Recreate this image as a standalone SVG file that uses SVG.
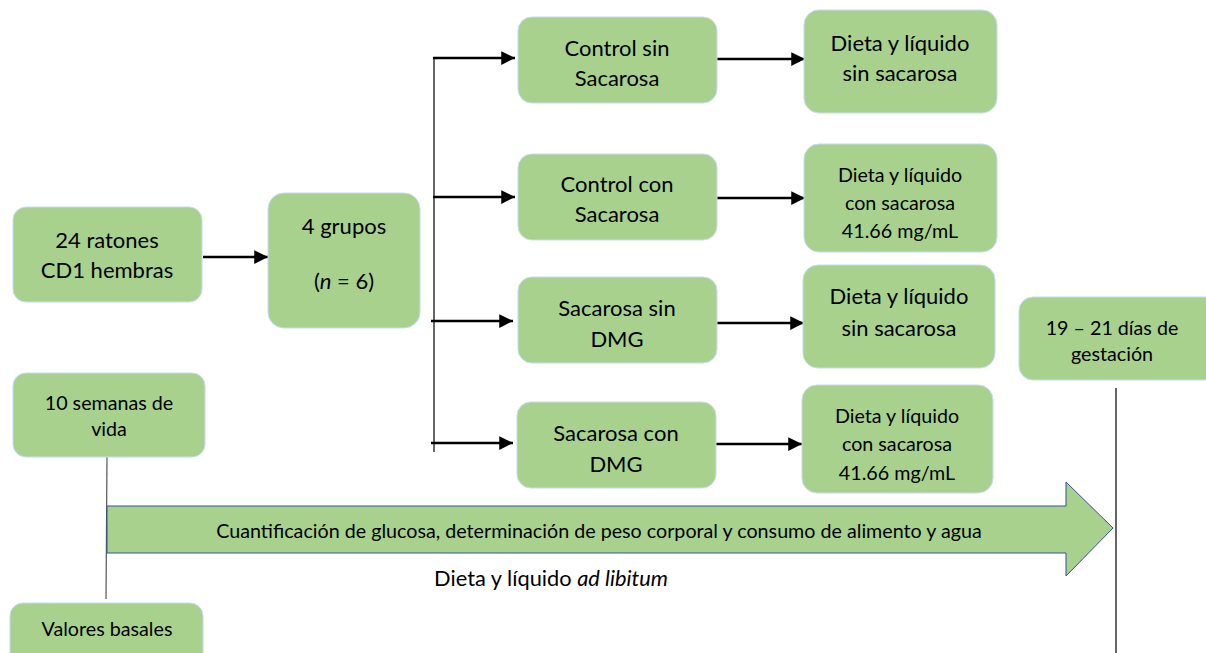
<svg xmlns="http://www.w3.org/2000/svg" width="1206" height="653" viewBox="0 0 1206 653">
<defs>
<style>
.box{fill:#a9d18e;stroke:#c5dcef;stroke-width:1}
.t{font-family:Lato,"Liberation Sans",sans-serif;fill:#000;text-anchor:middle;dominant-baseline:central}
.big{font-size:22px}
.sm{font-size:19.7px}
.conn{stroke:#000;stroke-width:2.5;fill:none}
.thin{stroke:#000;stroke-width:1.2;fill:none}
.gray{stroke:#555;stroke-width:1.2;fill:none}
</style>
<marker id="ah" viewBox="0 0 10 10" refX="10" refY="5" markerWidth="6" markerHeight="5.5" markerUnits="strokeWidth" orient="auto">
<path d="M0,0 L10,5 L0,10 z" fill="#000"/>
</marker>
</defs>
<rect width="1206" height="653" fill="#fff"/>

<g id="connectors">
<line class="conn" x1="203" y1="257" x2="268" y2="257" marker-end="url(#ah)"/>
<line class="thin" x1="434" y1="58" x2="434" y2="452"/>
<line class="conn" x1="433" y1="58" x2="515" y2="58" marker-end="url(#ah)"/>
<line class="conn" x1="433" y1="197" x2="515" y2="197" marker-end="url(#ah)"/>
<line class="conn" x1="431" y1="321" x2="513" y2="321" marker-end="url(#ah)"/>
<line class="conn" x1="431" y1="443" x2="513" y2="443" marker-end="url(#ah)"/>
<line class="conn" x1="717" y1="59" x2="805" y2="59" marker-end="url(#ah)"/>
<line class="conn" x1="717" y1="198" x2="805" y2="198" marker-end="url(#ah)"/>
<line class="conn" x1="717" y1="323" x2="804" y2="323" marker-end="url(#ah)"/>
<line class="conn" x1="716" y1="444" x2="802" y2="444" marker-end="url(#ah)"/>
<line class="gray" x1="107" y1="457" x2="106" y2="599"/>
<line class="thin" x1="1116" y1="388" x2="1116" y2="653"/>
</g>

<g id="n-ratones">
<rect class="box" x="13" y="207" width="189" height="95" rx="13"/>
<text class="t big" x="107" y="239">24 ratones</text>
<text class="t big" x="107" y="269">CD1 hembras</text>
</g>
<g id="n-grupos">
<rect class="box" x="268" y="193" width="152" height="135" rx="16"/>
<text class="t big" x="344" y="225">4 grupos</text>
<text class="t big" x="344" y="280">(<tspan font-style="italic">n</tspan> = 6)</text>
</g>
<g id="n-control-sin">
<rect class="box" x="518" y="17" width="199" height="86" rx="14"/>
<text class="t big" x="617" y="47">Control sin</text>
<text class="t big" x="617" y="77">Sacarosa</text>
</g>
<g id="n-control-con">
<rect class="box" x="518" y="154" width="199" height="86" rx="14"/>
<text class="t big" x="617" y="183">Control con</text>
<text class="t big" x="617" y="213">Sacarosa</text>
</g>
<g id="n-sac-sin">
<rect class="box" x="518" y="277" width="199" height="86" rx="14"/>
<text class="t big" x="617" y="307">Sacarosa sin</text>
<text class="t big" x="617" y="338">DMG</text>
</g>
<g id="n-sac-con">
<rect class="box" x="517" y="402" width="199" height="86" rx="14"/>
<text class="t big" x="616" y="432">Sacarosa con</text>
<text class="t big" x="616" y="463">DMG</text>
</g>
<g id="n-dieta1">
<rect class="box" x="804" y="10" width="193" height="103" rx="15"/>
<text class="t big" x="900" y="42">Dieta y líquido</text>
<text class="t big" x="900" y="72">sin sacarosa</text>
</g>
<g id="n-dieta2">
<rect class="box" x="804" y="144" width="193" height="108" rx="15"/>
<text class="t sm" x="900" y="174">Dieta y líquido</text>
<text class="t sm" x="900" y="202">con sacarosa</text>
<text class="t sm" x="900" y="230">41.66 mg/mL</text>
</g>
<g id="n-dieta3">
<rect class="box" x="803" y="265" width="192" height="103" rx="15"/>
<text class="t big" x="899" y="295">Dieta y líquido</text>
<text class="t big" x="899" y="327">sin sacarosa</text>
</g>
<g id="n-dieta4">
<rect class="box" x="802" y="385" width="191" height="108" rx="15"/>
<text class="t sm" x="897" y="415">Dieta y líquido</text>
<text class="t sm" x="897" y="443">con sacarosa</text>
<text class="t sm" x="897" y="472">41.66 mg/mL</text>
</g>
<g id="n-gestacion">
<rect class="box" x="1019" y="297" width="200" height="83" rx="14"/>
<text class="t sm" x="1112" y="327">19 – 21 días de</text>
<text class="t sm" x="1112" y="353">gestación</text>
</g>
<g id="n-semanas">
<rect class="box" x="13" y="373" width="192" height="84" rx="13"/>
<text class="t sm" x="109" y="402">10 semanas de</text>
<text class="t sm" x="109" y="428">vida</text>
</g>
<g id="n-basales">
<rect class="box" x="10" y="603" width="193" height="70" rx="13"/>
<text class="t sm" x="107" y="628">Valores basales</text>
</g>
<g id="n-timeline">
<path d="M107,506 L1066,506 L1066,482 L1113,528 L1066,576 L1066,553 L107,553 Z" fill="#a9d18e" stroke="#2f5597" stroke-width="1"/>
<text class="t sm" x="599" y="530">Cuantificación de glucosa, determinación de peso corporal y consumo de alimento y agua</text>
</g>
<g id="label-adlib">
<text class="t" x="551" y="577" font-size="21.8px">Dieta y líquido <tspan font-style="italic">ad libitum</tspan></text>
</g>
</svg>
